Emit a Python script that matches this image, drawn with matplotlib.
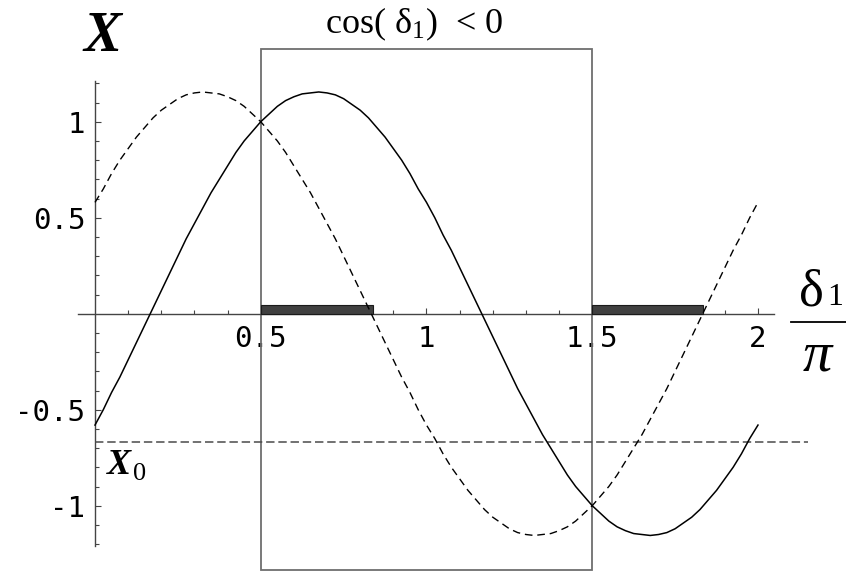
import matplotlib
matplotlib.use("Agg")
import matplotlib.pyplot as plt
from matplotlib.ticker import FixedLocator
from matplotlib.patches import Rectangle

# delta_1 / pi sample points and the two curves
delta = [0.000, 0.025, 0.050, 0.075, 0.100, 0.125, 0.150, 0.175, 0.200, 0.225,
         0.250, 0.275, 0.300, 0.325, 0.350, 0.375, 0.400, 0.425, 0.450, 0.475,
         0.500, 0.525, 0.550, 0.575, 0.600, 0.625, 0.650, 0.675, 0.700, 0.725,
         0.750, 0.775, 0.800, 0.825, 0.850, 0.875, 0.900, 0.925, 0.950, 0.975,
         1.000, 1.025, 1.050, 1.075, 1.100, 1.125, 1.150, 1.175, 1.200, 1.225,
         1.250, 1.275, 1.300, 1.325, 1.350, 1.375, 1.400, 1.425, 1.450, 1.475,
         1.500, 1.525, 1.550, 1.575, 1.600, 1.625, 1.650, 1.675, 1.700, 1.725,
         1.750, 1.775, 1.800, 1.825, 1.850, 1.875, 1.900, 1.925, 1.950, 1.975,
         2.000]
x_solid = [-0.58, -0.50, -0.41, -0.33, -0.24, -0.15, -0.06, 0.03, 0.12, 0.21,
           0.30, 0.39, 0.47, 0.55, 0.63, 0.70, 0.77, 0.84, 0.90, 0.95,
           1.00, 1.04, 1.08, 1.11, 1.13, 1.145, 1.15, 1.155, 1.15, 1.14,
           1.12, 1.09, 1.06, 1.02, 0.97, 0.92, 0.86, 0.80, 0.73, 0.65,
           0.58, 0.50, 0.41, 0.33, 0.24, 0.15, 0.06, -0.03, -0.12, -0.21,
           -0.30, -0.39, -0.47, -0.55, -0.63, -0.70, -0.77, -0.84, -0.90, -0.95,
           -1.00, -1.04, -1.08, -1.11, -1.13, -1.145, -1.15, -1.155, -1.15, -1.14,
           -1.12, -1.09, -1.06, -1.02, -0.97, -0.92, -0.86, -0.80, -0.73, -0.65,
           -0.58]
x_dashed = [0.58, 0.65, 0.73, 0.80, 0.86, 0.92, 0.97, 1.02, 1.06, 1.09,
            1.12, 1.14, 1.15, 1.155, 1.15, 1.145, 1.13, 1.11, 1.08, 1.04,
            1.00, 0.95, 0.90, 0.84, 0.77, 0.70, 0.63, 0.55, 0.47, 0.39,
            0.30, 0.21, 0.12, 0.03, -0.06, -0.15, -0.24, -0.33, -0.41, -0.50,
            -0.58, -0.65, -0.73, -0.80, -0.86, -0.92, -0.97, -1.02, -1.06, -1.09,
            -1.12, -1.14, -1.15, -1.155, -1.15, -1.145, -1.13, -1.11, -1.08, -1.04,
            -1.00, -0.95, -0.90, -0.84, -0.77, -0.70, -0.63, -0.55, -0.47, -0.39,
            -0.30, -0.21, -0.12, -0.03, 0.06, 0.15, 0.24, 0.33, 0.41, 0.50,
            0.58]
x0_level = -0.667
x0_extent = [0.0, 2.15]
# region where cos(delta_1) < 0
region = [0.5, 1.5]
region_y = [-1.335, 1.38]
# thick marks on the axis
bar_start = [0.5, 1.5]
bar_end = [0.84, 1.833]
bar_height = 0.044

xtick_vals = [0.5, 1, 1.5, 2]
xtick_labels = ["0.5", "1", "1.5", "2"]
ytick_vals = [-1, -0.5, 0.5, 1]
ytick_labels = ["-1", "-0.5", "0.5", "1"]

plt.rcParams["axes.unicode_minus"] = False
plt.rcParams["mathtext.fontset"] = "custom"
plt.rcParams["mathtext.rm"] = "Liberation Serif"
plt.rcParams["mathtext.it"] = "Liberation Serif:italic"
plt.rcParams["mathtext.bf"] = "Liberation Serif:bold"

fig = plt.figure(figsize=(8.46, 5.73), dpi=100)
ax = fig.add_axes([0, 0, 1, 1])
ax.set_xlim(-0.2866, 2.2655)
ax.set_ylim(-1.3505, 1.634)
ax.patch.set_visible(False)

for s in ["top", "right"]:
    ax.spines[s].set_visible(False)
ax.spines["left"].set_position(("data", 0))
ax.spines["bottom"].set_position(("data", 0))
ax.spines["left"].set_bounds(-1.21, 1.21)
ax.spines["bottom"].set_bounds(-0.051, 2.048)
for s in ["left", "bottom"]:
    ax.spines[s].set_color("#444444")
    ax.spines[s].set_linewidth(1.0)

ax.xaxis.set_major_locator(FixedLocator(xtick_vals))
ax.xaxis.set_minor_locator(FixedLocator([v / 10 for v in range(1, 20)]))
ax.set_xticklabels(xtick_labels)
ax.yaxis.set_major_locator(FixedLocator(ytick_vals))
ax.yaxis.set_minor_locator(FixedLocator([v / 10 for v in range(-12, 13) if v != 0]))
ax.set_yticklabels(ytick_labels)
ax.tick_params(which="both", direction="in", color="#444444", width=0.8)
ax.tick_params(which="major", length=4.2, labelsize=21)
ax.tick_params(which="minor", length=2.8)
ax.tick_params(axis="x", which="major", pad=8)
ax.tick_params(axis="y", which="major", pad=7)
for lab in ax.get_xticklabels() + ax.get_yticklabels():
    lab.set_fontfamily("DejaVu Sans Mono")

# region box
ax.add_patch(Rectangle((region[0], region_y[0]), region[1] - region[0],
                       region_y[1] - region_y[0], fill=False,
                       edgecolor="#6e6e6e", linewidth=1.3, zorder=2))

# bars on the axis
for a, b in zip(bar_start, bar_end):
    ax.add_patch(Rectangle((a, 0), b - a, bar_height, facecolor="#404040",
                           edgecolor="#1a1a1a", linewidth=0.8, zorder=3))

ax.plot(delta, x_solid, color="black", linewidth=1.1, zorder=4)
ax.plot(delta, x_dashed, color="black", linewidth=1.0, dashes=(5.5, 3.5), zorder=4)
ax.plot(x0_extent, [x0_level, x0_level], color="#4a4a4a", linewidth=1.1,
        dashes=(5.5, 2.5), zorder=3)

# labels
ax.text(-0.035, 1.37, "X", fontfamily="Liberation Serif", fontsize=41,
        fontweight="bold", fontstyle="italic", ha="left", va="baseline")
ax.text(0.037, -0.835, "X", fontfamily="Liberation Serif", fontsize=26,
        fontweight="bold", fontstyle="italic", ha="left", va="baseline")
ax.text(0.1146, -0.866, "0", fontfamily="Liberation Serif", fontsize=19,
        ha="left", va="baseline")
ax.text(0.694, 1.462, r"cos( $\mathrm{\delta}_1$)  < 0", fontfamily="Liberation Serif",
        fontsize=26, ha="left", va="baseline")
ax.text(2.124, 0.045, "\u03b4", fontfamily="Liberation Serif", fontsize=38,
        ha="left", va="baseline")
ax.text(2.208, 0.045, "1", fontfamily="Liberation Serif", fontsize=23,
        ha="left", va="baseline")
ax.plot([2.101, 2.27], [-0.043, -0.043], color="black", linewidth=1.3, clip_on=False)
ax.text(2.18, -0.295, "\u03c0", fontfamily="Liberation Serif", fontsize=42,
        fontstyle="italic", ha="center", va="baseline")

fig.savefig("out.png", dpi=100)
